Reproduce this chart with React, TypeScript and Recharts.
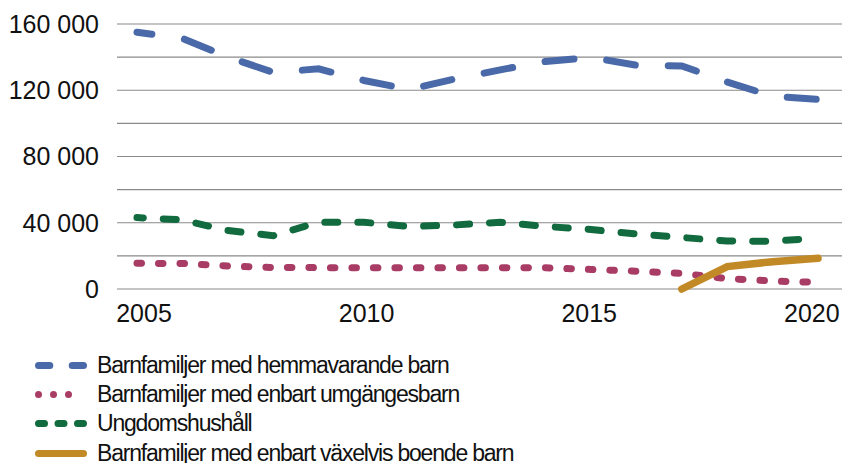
import { LineChart, Line, XAxis, YAxis, CartesianGrid, Legend } from "recharts";

const years = [2005, 2006, 2007, 2008, 2009, 2010, 2011, 2012, 2013, 2014, 2015, 2016, 2017, 2018, 2019, 2020];
const hemmavarande = [155000, 151300, 140100, 130800, 132900, 125900, 120500, 126800, 132300, 137400, 139800, 135100, 134700, 125000, 116400, 114500];
const umgangesbarn = [15500, 15400, 13900, 13000, 12900, 12900, 12900, 12900, 12900, 12800, 11800, 10750, 9400, 6300, 4800, 4050];
const ungdomshushall = [43100, 41700, 35300, 32200, 40300, 40300, 37750, 38650, 40300, 37750, 35900, 33200, 31100, 29000, 28800, 30800];
const vaxelvis = [null, null, null, null, null, null, null, null, null, null, null, null, 0, 13500, 16500, 18500];

const yTicks = [0, 20000, 40000, 60000, 80000, 100000, 120000, 140000, 160000];
const xTicks = [2005, 2010, 2015, 2020];

const data = years.map((year, i) => ({
  year,
  hemma: hemmavarande[i],
  umg: umgangesbarn[i],
  ungdom: ungdomshushall[i],
  vaxel: vaxelvis[i],
}));

const series = [
  { key: "hemma", name: "Barnfamiljer med hemmavarande barn", color: "#4a69a8", dash: "29 33", offset: 14, legendDash: "11.3 22.4" },
  { key: "umg", name: "Barnfamiljer med enbart umgängesbarn", color: "#a83c64", dash: "4.5 17", offset: 0, legendDash: "0 15" },
  { key: "ungdom", name: "Ungdomshushåll", color: "#126b3e", dash: "13 20", offset: 6.7, legendDash: "6 13.5" },
  { key: "vaxel", name: "Barnfamiljer med enbart växelvis boende barn", color: "#c28a26", dash: undefined, offset: 0, legendDash: undefined },
];

const font = "'Liberation Sans', Arial, sans-serif";

const fmt = (v: number) => {
  if (v % 40000 !== 0) return "";
  if (v < 1000) return String(v);
  return `${Math.floor(v / 1000)} ${String(v % 1000).padStart(3, "0")}`;
};

// year labels sit a little inward of their data points in the original
const YearTick = (props: any) => {
  const { x, y, payload, index } = props;
  const shift = 7 - index * 4.4;
  return (
    <text x={x + shift} y={y} dy="0.71em" textAnchor="middle" fontFamily={font} fontSize={25} fill="#111">
      {payload.value}
    </text>
  );
};

const LegendBox = () => (
  <div style={{ fontFamily: font, fontSize: 23, letterSpacing: -1.2, color: "#111", height: 116 }}>
    {series.map((s) => (
      <div key={s.key} style={{ display: "flex", alignItems: "center", height: 29.4 }}>
        <svg width={52} height={29}>
          <line
            x1={3.5}
            x2={48.5}
            y1={14.5}
            y2={14.5}
            stroke={s.color}
            strokeWidth={7}
            strokeLinecap="round"
            strokeDasharray={s.legendDash}
          />
        </svg>
        <span style={{ marginLeft: 10, whiteSpace: "nowrap" }}>{s.name}</span>
      </div>
    ))}
  </div>
);

export default function App() {
  return (
    <div style={{ position: "absolute", left: 0, top: 0, width: 844, height: 463, background: "#fff", overflow: "hidden" }}>
      <LineChart width={844} height={463} data={data} margin={{ top: 24, right: 2, left: 0, bottom: 28 }}>
        <CartesianGrid vertical={false} stroke="#8a8a8a" strokeWidth={1.2} />
        <XAxis
          dataKey="year"
          type="number"
          domain={[2005, 2020]}
          ticks={xTicks}
          padding={{ left: 20, right: 24 }}
          axisLine={false}
          tickLine={false}
          tickSize={0}
          tickMargin={15}
          height={30}
          interval={0}
          tick={<YearTick />}
        />
        <YAxis
          domain={[0, 160000]}
          ticks={yTicks}
          tickFormatter={fmt}
          axisLine={false}
          tickLine={false}
          tickSize={0}
          tickMargin={18}
          width={117}
          interval={0}
          tick={{ fontFamily: font, fontSize: 25, fill: "#111" }}
        />
        {series.map((s) => (
          <Line
            key={s.key}
            dataKey={s.key}
            name={s.name}
            stroke={s.color}
            strokeWidth={s.key === "vaxel" ? 7.5 : 7}
            strokeLinecap="round"
            strokeDasharray={s.dash}
            strokeDashoffset={s.offset}
            dot={false}
            activeDot={false}
            type="linear"
            isAnimationActive={false}
          />
        ))}
        <Legend
          layout="horizontal"
          verticalAlign="bottom"
          align="left"
          content={<LegendBox />}
          wrapperStyle={{ left: 35, top: 350.5, width: 620 }}
        />
      </LineChart>
    </div>
  );
}
